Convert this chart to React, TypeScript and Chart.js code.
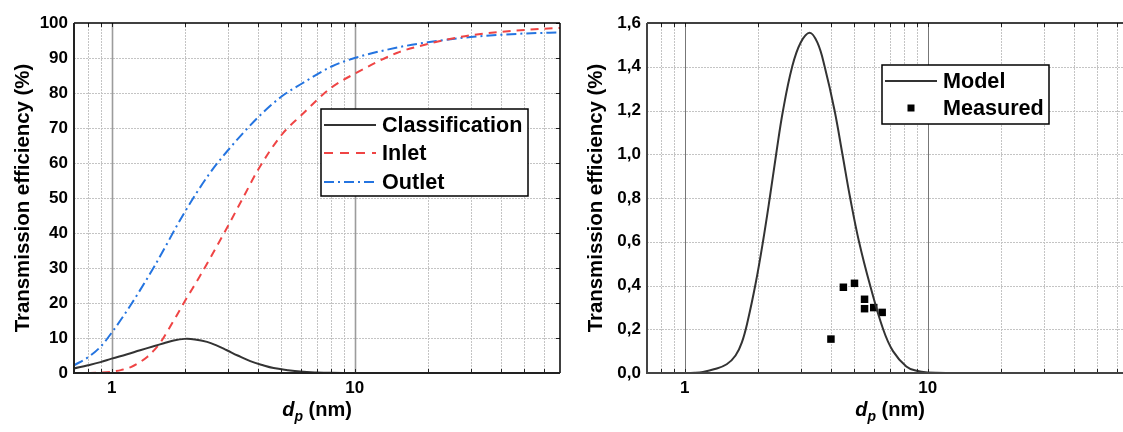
import React, { useEffect, useRef } from 'react';
import { Chart, registerables } from 'chart.js';
Chart.register(...registerables);

// ---------- data (left panel) ----------
const CLASS_DP = [0.7, 0.8, 0.9, 1.0, 1.15, 1.31, 1.5, 1.64, 1.8, 2.0, 2.2, 2.47, 2.7, 2.98, 3.3, 3.72, 4.2, 4.64, 5.3, 5.98, 7, 8, 10, 15, 70];
const CLASS_EFF = [1.3, 2.2, 3.1, 4.1, 5.3, 6.5, 7.7, 8.5, 9.3, 9.75, 9.6, 8.9, 7.9, 6.5, 5.0, 3.4, 2.2, 1.4, 0.8, 0.4, 0.15, 0.05, 0.01, 0, 0];

const INLET_DP = [0.7, 0.8, 0.9, 1.0, 1.1, 1.2, 1.3, 1.4, 1.5, 1.58, 1.7, 1.84, 2.0, 2.3, 2.6, 3.0, 3.5, 4.0, 5.0, 6.0, 8.0, 10, 15, 20, 30, 50, 70];
const INLET_EFF = [0, 0.02, 0.1, 0.35, 0.9, 1.7, 3.0, 4.6, 6.6, 8.5, 12, 16.1, 20.5, 27.5, 34, 41.8, 50.5, 58, 68, 73.5, 81.5, 85.5, 91.5, 94, 96.5, 98, 98.6];

const OUTLET_DP = [0.7, 0.8, 0.9, 1.0, 1.2, 1.5, 2.0, 2.5, 3.0, 4.0, 5.0, 6.0, 8.0, 10, 15, 20, 30, 50, 70];
const OUTLET_EFF = [2.2, 4.5, 7.5, 11.5, 19.5, 30.5, 46, 56.5, 63.5, 73, 79, 82.5, 87.5, 90, 93, 94.5, 96, 97, 97.3];

// ---------- data (right panel) ----------
const MODEL_DP = [0.7, 1.0, 1.1, 1.19, 1.33, 1.49, 1.62, 1.72, 1.82, 1.96, 2.1, 2.24, 2.38, 2.54, 2.77, 3.0, 3.27, 3.52, 3.77, 4.14, 4.46, 4.8, 5.22, 5.8, 6.56, 7.2, 8.17, 9.0, 10, 12, 70];
const MODEL_EFF = [0, 0, 0.001, 0.005, 0.018, 0.04, 0.08, 0.14, 0.24, 0.41, 0.6, 0.8, 1.0, 1.2, 1.4, 1.51, 1.556, 1.51, 1.4, 1.2, 1.0, 0.8, 0.6, 0.4, 0.2, 0.1, 0.03, 0.01, 0.002, 0, 0];

const MEAS_DP = [4.0, 4.5, 5.0, 5.5, 5.5, 6.0, 6.5];
const MEAS_EFF = [0.155, 0.392, 0.41, 0.337, 0.294, 0.299, 0.277];

// ---------- axes ----------
const X_MIN = 0.7;
const X_MAX = 70;
const X_GRID = [0.8, 0.9, 1, 2, 3, 4, 5, 6, 7, 8, 9, 10, 20, 30, 40, 50, 60];
const X_LABELED = [1, 10];

const LEFT_LABELS = ['Classification', 'Inlet', 'Outlet'];
const RIGHT_LABELS = ['Model', 'Measured'];
const Y_TITLE = 'Transmission efficiency (%)';

const FONT = '"Liberation Sans", Arial, Helvetica, sans-serif';

const zip = (xs: number[], ys: number[]) => xs.map((x, i) => ({ x, y: ys[i] }));

function makeDecor(cfg: any) {
  return {
    id: 'decor',
    beforeDatasetsDraw(chart: any) {
      const { ctx, chartArea, scales } = chart;
      const { left, right, top, bottom } = chartArea;
      const x = scales.x, y = scales.y;
      ctx.save();
      ctx.strokeStyle = '#c4c4c4';
      ctx.lineWidth = 1;
      ctx.setLineDash([2, 1]);
      y.ticks.forEach((t: any) => {
        if (t.value <= y.min + 1e-9 || t.value >= y.max - 1e-9) return;
        const py = Math.round(y.getPixelForValue(t.value)) + 0.5;
        ctx.beginPath(); ctx.moveTo(left, py); ctx.lineTo(right, py); ctx.stroke();
      });
      X_GRID.forEach((v) => {
        const px = Math.round(x.getPixelForValue(v)) + 0.5;
        if (X_LABELED.includes(v)) {
          ctx.setLineDash([]);
          ctx.strokeStyle = cfg.majorColor;
          ctx.lineWidth = cfg.majorWidth;
        } else {
          ctx.setLineDash([2, 1]);
          ctx.strokeStyle = '#c4c4c4';
          ctx.lineWidth = 1;
        }
        ctx.beginPath(); ctx.moveTo(px, top); ctx.lineTo(px, bottom); ctx.stroke();
      });
      ctx.restore();
    },
    afterDatasetsDraw(chart: any) {
      const { ctx, chartArea, scales } = chart;
      const { left, right, top, bottom } = chartArea;
      const x = scales.x, y = scales.y;
      ctx.save();
      ctx.setLineDash([]);
      ctx.strokeStyle = '#222';
      ctx.lineWidth = 1;
      X_GRID.forEach((v) => {
        const px = Math.round(x.getPixelForValue(v)) + 0.5;
        ctx.beginPath(); ctx.moveTo(px, top); ctx.lineTo(px, top + 4); ctx.stroke();
        ctx.beginPath(); ctx.moveTo(px, bottom); ctx.lineTo(px, bottom - 4); ctx.stroke();
      });
      y.ticks.forEach((t: any) => {
        const py = Math.round(y.getPixelForValue(t.value)) + 0.5;
        ctx.beginPath(); ctx.moveTo(right, py); ctx.lineTo(right - 4, py); ctx.stroke();
      });
      ctx.strokeStyle = '#000';
      ctx.lineWidth = 1.5;
      ctx.beginPath(); ctx.moveTo(left, top); ctx.lineTo(right, top); ctx.stroke();
      ctx.beginPath(); ctx.moveTo(right, top); ctx.lineTo(right, bottom); ctx.stroke();
      ctx.strokeStyle = cfg.axisColor;
      ctx.lineWidth = 2;
      ctx.beginPath(); ctx.moveTo(left, top); ctx.lineTo(left, bottom + 1); ctx.stroke();
      ctx.beginPath(); ctx.moveTo(left - 1, bottom); ctx.lineTo(right, bottom); ctx.stroke();

      const L = cfg.legend;
      ctx.fillStyle = '#fff';
      ctx.fillRect(L.x0, L.y0, L.x1 - L.x0, L.y1 - L.y0);
      ctx.strokeStyle = '#000';
      ctx.lineWidth = 1.5;
      ctx.strokeRect(L.x0, L.y0, L.x1 - L.x0, L.y1 - L.y0);
      ctx.font = `bold 21.6px ${FONT}`;
      ctx.textAlign = 'left';
      ctx.textBaseline = 'middle';
      chart.data.datasets.forEach((ds: any, i: number) => {
        const ry = L.rows[i];
        if (ds.showLine === false) {
          ctx.fillStyle = ds.backgroundColor;
          ctx.fillRect(L.markX - 3.5, ry - 3.5, 7, 7);
        } else {
          ctx.strokeStyle = ds.borderColor;
          ctx.lineWidth = ds.borderWidth;
          ctx.setLineDash(ds.legendDash || []);
          ctx.beginPath(); ctx.moveTo(L.lx0, ry); ctx.lineTo(L.lx1, ry); ctx.stroke();
          ctx.setLineDash([]);
        }
        ctx.fillStyle = '#000';
        ctx.fillText(ds.label, L.tx, ry + 1);
      });
      ctx.restore();
    },
    afterDraw(chart: any) {
      const { ctx, chartArea } = chart;
      const { left, right, top, bottom } = chartArea;
      ctx.save();
      ctx.fillStyle = '#000';
      ctx.translate(cfg.yTitleX, (top + bottom) / 2);
      ctx.rotate(-Math.PI / 2);
      ctx.font = `bold 20.4px ${FONT}`;
      ctx.textAlign = 'center';
      ctx.textBaseline = 'middle';
      ctx.fillText(Y_TITLE, 0, 0);
      ctx.restore();
      ctx.save();
      ctx.fillStyle = '#000';
      ctx.textAlign = 'left';
      ctx.textBaseline = 'alphabetic';
      const f1 = `italic bold 20px ${FONT}`;
      const f2 = `italic bold 14px ${FONT}`;
      const f3 = `bold 20px ${FONT}`;
      ctx.font = f1; const w1 = ctx.measureText('d').width;
      ctx.font = f2; const w2 = ctx.measureText('p').width;
      ctx.font = f3; const w3 = ctx.measureText(' (nm)').width;
      const cx = (left + right) / 2;
      const base = cfg.xTitleBase;
      let sx = cx - (w1 + w2 + w3) / 2;
      ctx.font = f1; ctx.fillText('d', sx, base); sx += w1;
      ctx.font = f2; ctx.fillText('p', sx, base + 5); sx += w2;
      ctx.font = f3; ctx.fillText(' (nm)', sx, base);
      ctx.restore();
    },
  };
}

function baseOptions(yOpts: any, yWidth: number, padRight: number) {
  return {
    animation: false,
    responsive: false,
    maintainAspectRatio: false,
    layout: { padding: { top: 23, right: padRight, left: 0, bottom: 0 } },
    plugins: { legend: { display: false }, tooltip: { enabled: false } },
    elements: { point: { radius: 0 } },
    scales: {
      x: {
        type: 'logarithmic',
        min: X_MIN,
        max: X_MAX,
        grid: { display: false, drawTicks: false },
        border: { display: false },
        afterBuildTicks: (s: any) => {
          s.ticks = X_GRID.map((v) => ({ value: v }));
        },
        afterFit: (s: any) => { s.height = 59; },
        ticks: {
          autoSkip: false,
          maxRotation: 0,
          padding: 5,
          color: '#000',
          font: { family: FONT, size: 17, weight: 'bold' },
          callback: (v: any) => (X_LABELED.includes(Number(v)) ? String(v) : ''),
        },
      },
      y: {
        ...yOpts,
        grid: { display: false, drawTicks: false },
        border: { display: false },
        afterFit: (s: any) => { s.width = yWidth; },
        ticks: {
          ...yOpts.ticks,
          autoSkip: false,
          padding: 6,
          color: '#000',
          font: { family: FONT, size: 17, weight: 'bold' },
        },
      },
    },
  };
}

function LeftChart() {
  const ref = useRef<HTMLCanvasElement>(null);
  useEffect(() => {
    const chart = new Chart(ref.current as HTMLCanvasElement, {
      type: 'line',
      data: {
        datasets: [
          {
            label: LEFT_LABELS[0],
            data: zip(CLASS_DP, CLASS_EFF),
            borderColor: '#333333',
            borderWidth: 2,
            tension: 0.4,
            legendDash: [],
          } as any,
          {
            label: LEFT_LABELS[1],
            data: zip(INLET_DP, INLET_EFF),
            borderColor: '#ef4444',
            borderWidth: 2,
            borderDash: [8, 6],
            cubicInterpolationMode: 'monotone',
            legendDash: [9, 7],
          } as any,
          {
            label: LEFT_LABELS[2],
            data: zip(OUTLET_DP, OUTLET_EFF),
            borderColor: '#2474e0',
            borderWidth: 2,
            borderDash: [10, 4, 2, 4],
            cubicInterpolationMode: 'monotone',
            legendDash: [10, 4, 2, 4],
          } as any,
        ],
      },
      options: baseOptions({ min: 0, max: 100, ticks: { stepSize: 10 } }, 74, 5) as any,
      plugins: [
        makeDecor({
          majorColor: '#9c9c9c',
          majorWidth: 1.6,
          axisColor: '#222',
          yTitleX: 23,
          xTitleBase: 416,
          legend: { x0: 321, y0: 109, x1: 528, y1: 196, rows: [125, 153, 182], lx0: 324, lx1: 376, tx: 382, markX: 350 },
        }),
      ],
    });
    return () => chart.destroy();
  }, []);
  return <canvas ref={ref} width={565} height={432} style={{ position: 'absolute', left: 0, top: 0 }} />;
}

function RightChart() {
  const ref = useRef<HTMLCanvasElement>(null);
  useEffect(() => {
    const chart = new Chart(ref.current as HTMLCanvasElement, {
      type: 'line',
      data: {
        datasets: [
          {
            label: RIGHT_LABELS[0],
            data: zip(MODEL_DP, MODEL_EFF),
            borderColor: '#333333',
            borderWidth: 2,
            tension: 0.4,
            legendDash: [],
          } as any,
          {
            label: RIGHT_LABELS[1],
            data: zip(MEAS_DP, MEAS_EFF),
            showLine: false,
            pointStyle: 'rect',
            pointRadius: 5.3,
            backgroundColor: '#000',
            borderColor: '#000',
            borderWidth: 0,
          } as any,
        ],
      },
      options: baseOptions(
        {
          min: 0,
          max: 1.6,
          ticks: {
            stepSize: 0.2,
            callback: (v: any) => Number(v).toFixed(1).replace('.', ','),
          },
        },
        77,
        7
      ) as any,
      plugins: [
        makeDecor({
          majorColor: '#777777',
          majorWidth: 1,
          axisColor: '#444',
          yTitleX: 26,
          xTitleBase: 416,
          legend: { x0: 312, y0: 65, x1: 479, y1: 124, rows: [81, 108], lx0: 315, lx1: 367, tx: 373, markX: 341 },
        }),
      ],
    });
    return () => chart.destroy();
  }, []);
  return <canvas ref={ref} width={570} height={432} style={{ position: 'absolute', left: 570, top: 0 }} />;
}

export default function App() {
  return (
    <div
      style={{
        position: 'fixed',
        left: 0,
        top: 0,
        width: 1123,
        height: 432,
        overflow: 'hidden',
        background: '#fff',
      }}
    >
      <LeftChart />
      <RightChart />
    </div>
  );
}
